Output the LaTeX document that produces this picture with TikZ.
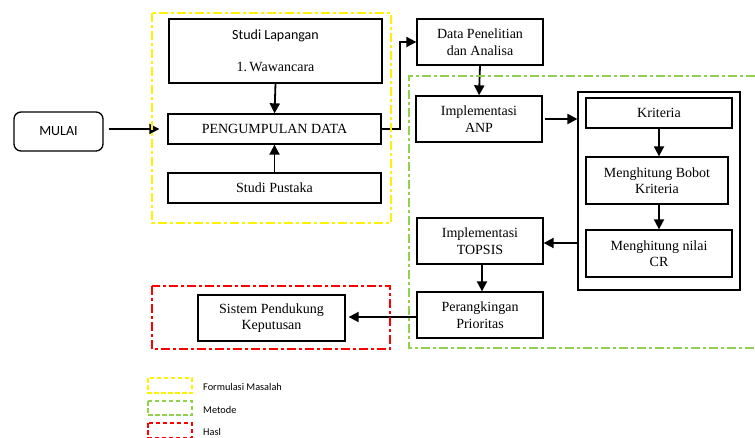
\documentclass[tikz,border=0pt]{standalone}
\usepackage{fontspec}
\setmainfont{Liberation Serif}
\newfontfamily\timesfont{Liberation Serif}
\newfontfamily\calibrifont{Carlito}
\usetikzlibrary{arrows.meta}
\definecolor{ygreen}{RGB}{146,208,80}
\begin{document}
\begin{tikzpicture}[x=1pt,y=-1pt,
  box/.style={draw,line width=1.3pt,inner sep=0pt,align=center,font=\timesfont\fontsize{14}{16.5}\selectfont},
  txt/.style={inner sep=0pt,align=center},
  arr/.style={line width=1.8pt,-{Triangle[length=10pt,width=10pt]}},
  region/.style={line width=1.7pt,dash pattern=on 9pt off 3pt on 3pt off 3pt},
  legbox/.style={line width=1.7pt,dash pattern=on 4.5pt off 2.5pt},
  legtxt/.style={anchor=west,inner sep=0pt,font=\calibrifont\fontsize{10.3}{12}\selectfont}]
\useasboundingbox (0,0) rectangle (755,438);

% boxes
\node[box,minimum width=213pt,minimum height=64pt] (lap) at (275.5,51) {};
\node[txt,font=\calibrifont\fontsize{14}{16}\selectfont] (lapa) at (275.5,36) {Studi Lapangan};
\node[txt,font=\timesfont\fontsize{14}{16.5}\selectfont] (lapb) at (275.5,67) {1.\,Wawancara};
\node[box,minimum width=213pt,minimum height=30pt] (pd) at (274.5,129) {PENGUMPULAN DATA};
\node[box,minimum width=213pt,minimum height=30pt] (pus) at (274.5,188) {Studi Pustaka};
\node[box,rounded corners=7pt,minimum width=89pt,minimum height=39pt,font=\calibrifont\fontsize{14}{16}\selectfont] (mulai) at (58.5,131.5) {MULAI};
\node[box,minimum width=126pt,minimum height=46pt] (dp) at (480,42) {Data Penelitian\\dan Analisa};
\node[box,minimum width=126pt,minimum height=46pt] (anp) at (479,119) {Implementasi\\ANP};
\node[box,minimum width=126pt,minimum height=46pt] (top) at (480,241) {Implementasi\\TOPSIS};
\node[box,minimum width=126pt,minimum height=46pt] (per) at (480,315) {Perangkingan\\Prioritas};
\node[box,minimum width=147pt,minimum height=46pt] (spk) at (271.5,318) {Sistem Pendukung\\Keputusan};
\node[draw,line width=1.1pt,minimum width=162pt,minimum height=198pt,inner sep=0pt] (big) at (659,191) {};
\node[box,minimum width=146pt,minimum height=30pt] (kri) at (659,113) {Kriteria};
\node[box,minimum width=142pt,minimum height=47pt] (bob) at (657,180.5) {Menghitung Bobot\\Kriteria};
\node[box,minimum width=146pt,minimum height=47pt] (cr) at (659,253.5) {Menghitung nilai\\CR};

% arrows
\draw[arr,shorten <=5pt,shorten >=8pt] (mulai.east |- pd.west) -- (pd.west);
\draw[arr] (lap.south) -- (pd.north);
\draw[arr] (pus.north) -- (pd.south);
\draw[arr] (pd.east) -- ++(18,0) |- (dp.west);
\draw[arr] (dp.south) -- (anp.north);
\draw[arr,shorten <=2pt] (anp.east) -- (big.west |- anp.east);
\draw[arr] (kri.south) -- (kri.south |- bob.north);
\draw[arr] (kri.south |- bob.south) -- (kri.south |- cr.north);
\draw[arr] (big.west |- 0,243) -- (top.east |- 0,243);
\draw[arr] ([xshift=2pt]top.south) -- ([xshift=2pt]top.south |- per.north);
\draw[arr,shorten >=3pt] (per.west |- 0,317) -- (spk.east |- 0,317);

% regions
\draw[region,yellow] (152,13) rectangle (391,223);
\draw[region,ygreen] (755,76) -- (409,76) -- (409,348) -- (755,348);
\draw[region,red] (152,286) rectangle (390,349);

% legend
\draw[legbox,yellow] (148,378) rectangle (192,393);
\draw[legbox,ygreen] (148,401) rectangle (192,415);
\draw[legbox,red] (148,423) rectangle (192,437.5);
\node[legtxt] (l1) at (203,387) {Formulasi Masalah};
\node[legtxt] (l2) at (203,410) {Metode};
\node[legtxt] (l3) at (203,432) {Hasl};
\end{tikzpicture}
\end{document}
